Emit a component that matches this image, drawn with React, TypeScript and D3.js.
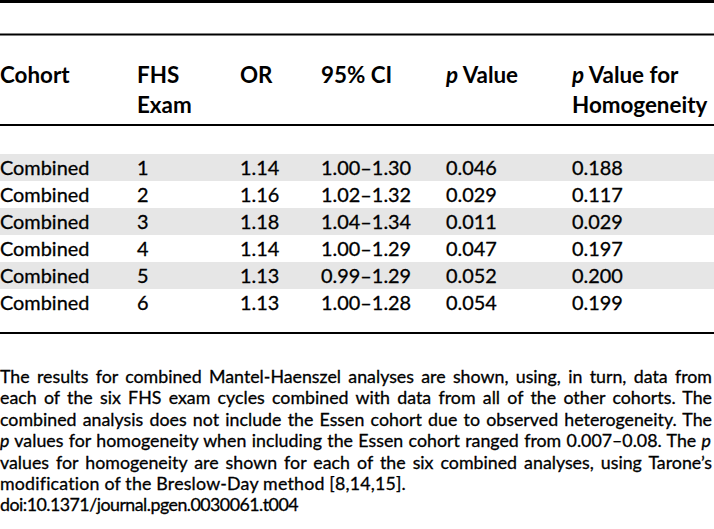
import React, { useEffect, useRef } from "react";
import * as d3 from "d3";

const cohorts = ["Combined", "Combined", "Combined", "Combined", "Combined", "Combined"];
const exams = ["1", "2", "3", "4", "5", "6"];
const oddsRatios = ["1.14", "1.16", "1.18", "1.14", "1.13", "1.13"];
const confIntervals = ["1.00–1.30", "1.02–1.32", "1.04–1.34", "1.00–1.29", "0.99–1.29", "1.00–1.28"];
const pValues = ["0.046", "0.029", "0.011", "0.047", "0.052", "0.054"];
const pHomogeneity = ["0.188", "0.117", "0.029", "0.197", "0.200", "0.199"];

const headers: { italicP: boolean; lines: string[] }[] = [
  { italicP: false, lines: ["Cohort"] },
  { italicP: false, lines: ["FHS", "Exam"] },
  { italicP: false, lines: ["OR"] },
  { italicP: false, lines: ["95% CI"] },
  { italicP: true, lines: ["Value"] },
  { italicP: true, lines: ["Value for", "Homogeneity"] },
];

const footLines: { segs: [string, boolean][]; justify: boolean; width: number }[] = [
  { segs: [["The results for combined Mantel-Haenszel analyses are shown, using, in turn, data from", false]], justify: true, width: 712 },
  { segs: [["each of the six FHS exam cycles combined with data from all of the other cohorts. The", false]], justify: true, width: 712 },
  { segs: [["combined analysis does not include the Essen cohort due to observed heterogeneity. The", false]], justify: true, width: 712 },
  { segs: [["p", true], [" values for homogeneity when including the Essen cohort ranged from 0.007–0.08. The ", false], ["p", true]], justify: true, width: 711 },
  { segs: [["values for homogeneity are shown for each of the six combined analyses, using Tarone’s", false]], justify: true, width: 712 },
  { segs: [["modification of the Breslow-Day method [8,14,15].", false]], justify: false, width: 406 },
  { segs: [["doi:10.1371/journal.pgen.0030061.t004", false]], justify: false, width: 298 },
];

const W = 714;
const H = 529;
const FONT = "Lato, 'Open Sans', sans-serif";

export default function App() {
  const ref = useRef<SVGSVGElement | null>(null);

  useEffect(() => {
    const svg = d3.select(ref.current);
    svg.selectAll("*").remove();

    const colX = [0, 137, 240, 321, 446, 572];

    const rowIdx = d3.range(cohorts.length);
    const y = d3.scaleBand<number>().domain(rowIdx).range([154, 154 + 27 * cohorts.length]).padding(0);

    svg
      .selectAll("rect.stripe")
      .data(rowIdx.filter((i) => i % 2 === 0))
      .join("rect")
      .attr("class", "stripe")
      .attr("x", 0)
      .attr("y", (i) => y(i)!)
      .attr("width", W)
      .attr("height", y.bandwidth())
      .attr("fill", "#e6e6e6");

    const rules = [
      { y: 1.5, w: 3 },
      { y: 34.5, w: 2 },
      { y: 125, w: 2 },
      { y: 333, w: 2 },
    ];
    svg
      .selectAll("line.rule")
      .data(rules)
      .join("line")
      .attr("class", "rule")
      .attr("x1", 0)
      .attr("x2", W)
      .attr("y1", (d) => d.y)
      .attr("y2", (d) => d.y)
      .attr("stroke", "#000")
      .attr("stroke-width", (d) => d.w);

    const hg = svg
      .append("g")
      .attr("font-family", FONT)
      .attr("font-weight", "bold")
      .attr("font-size", 22.4)
      .attr("fill", "#000");
    headers.forEach((h, ci) => {
      const t = hg.append("text").attr("x", colX[ci]).attr("y", 83);
      h.lines.forEach((ln, li) => {
        const line = t.append("tspan").attr("x", colX[ci]).attr("y", 83 + li * 29.5);
        if (h.italicP && li === 0) {
          line.append("tspan").attr("font-style", "italic").text("p");
          line.append("tspan").text(" " + ln);
        } else {
          line.text(ln);
        }
      });
    });

    const cols = [cohorts, exams, oddsRatios, confIntervals, pValues, pHomogeneity];
    const bg = svg
      .append("g")
      .attr("font-family", FONT)
      .attr("font-size", 19.9)
      .attr("fill", "#000")
      .attr("stroke", "#000")
      .attr("stroke-width", 0.3);
    cols.forEach((col, ci) => {
      bg.selectAll(null)
        .data(col)
        .join("text")
        .attr("x", colX[ci])
        .attr("y", (_d, i) => y(i)! + 21)
        .text((d) => d);
    });

    const para = svg
      .append("text")
      .attr("font-family", FONT)
      .attr("font-size", 17.8)
      .attr("fill", "#000")
      .attr("stroke", "#000")
      .attr("stroke-width", 0.3)
      .attr("xml:space", "preserve");
    footLines.forEach((fl, li) => {
      const line = para.append("tspan").attr("x", 0).attr("y", 383 + li * 21.4);
      fl.segs.forEach(([s, it]) => {
        line.append("tspan").attr("font-style", it ? "italic" : "normal").text(s);
      });
      const node = line.node() as SVGTSpanElement;
      const natural = node.getComputedTextLength();
      const full = fl.segs.map((s) => s[0]).join("");
      if (fl.justify) {
        const spaces = (full.match(/ /g) || []).length;
        if (spaces > 0) line.attr("word-spacing", (fl.width - natural) / spaces);
      } else {
        line.attr("letter-spacing", (fl.width - natural) / full.length);
      }
    });
  }, []);

  return (
    <svg
      ref={ref}
      width={W}
      height={H}
      style={{ position: "fixed", left: 0, top: 0, background: "#fff" }}
    />
  );
}
